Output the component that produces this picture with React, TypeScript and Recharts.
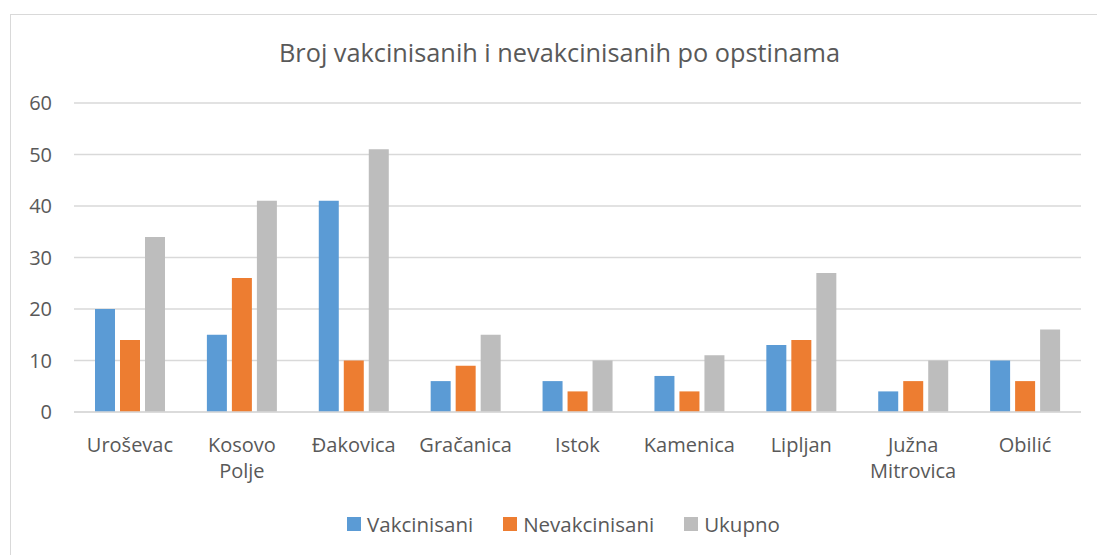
import { BarChart, Bar, XAxis, YAxis, CartesianGrid } from 'recharts';

const municipalities = ['Uroševac', 'Kosovo Polje', 'Đakovica', 'Gračanica', 'Istok', 'Kamenica', 'Lipljan', 'Južna Mitrovica', 'Obilić'];
const vakcinisani = [20, 15, 41, 6, 6, 7, 13, 4, 10];
const nevakcinisani = [14, 26, 10, 9, 4, 4, 14, 6, 6];
const ukupno = [34, 41, 51, 15, 10, 11, 27, 10, 16];
const yTicks = [0, 10, 20, 30, 40, 50, 60];

const seriesInfo = [
  { key: 'vakcinisani', name: 'Vakcinisani', color: '#5B9BD5' },
  { key: 'nevakcinisani', name: 'Nevakcinisani', color: '#ED7D31' },
  { key: 'ukupno', name: 'Ukupno', color: '#BDBDBD' },
];

const data = municipalities.map((name, i) => ({
  name,
  vakcinisani: vakcinisani[i],
  nevakcinisani: nevakcinisani[i],
  ukupno: ukupno[i],
}));

const FONT = '"Open Sans", sans-serif';
const TEXT = '#595959';

// category labels wrap on the space, like Excel does for the longer names
function CategoryTick({ x, y, payload }: any) {
  const lines = String(payload.value).split(' ');
  return (
    <text x={x} y={y} textAnchor="middle" fill={TEXT} fontSize={20} fontFamily={FONT}>
      {lines.map((l, i) => (
        <tspan key={i} x={x} dy={i === 0 ? 16 : 26}>{l}</tspan>
      ))}
    </text>
  );
}

function LegendBox() {
  return (
    <div style={{ display: 'flex', justifyContent: 'center', gap: 30, fontFamily: FONT, fontSize: 20.5, color: TEXT, lineHeight: '28px' }}>
      {seriesInfo.map((s) => (
        <div key={s.key} style={{ display: 'flex', alignItems: 'center' }}>
          <span style={{ width: 14, height: 14, background: s.color, display: 'inline-block', marginRight: 6 }} />
          <span>{s.name}</span>
        </div>
      ))}
    </div>
  );
}

export default function App() {
  return (
    <div style={{ position: 'absolute', left: 0, top: 0, width: 1097, height: 555, overflow: 'hidden', background: '#fff' }}>
      <div style={{ position: 'absolute', left: 10, top: 14, width: 1200, height: 700, border: '1.5px solid #d9d9d9' }} />
      <div style={{ position: 'absolute', left: 11, top: 35, width: 1097, textAlign: 'center', fontFamily: FONT, fontSize: 25.3, color: TEXT, lineHeight: '34px' }}>
        Broj vakcinisanih i nevakcinisanih po opstinama
      </div>
      <div style={{ position: 'absolute', left: 0, top: 0 }}>
        <BarChart width={1097} height={555} data={data} margin={{ top: 103, right: 16, left: 14, bottom: 0 }} barSize={20} barGap={5}>
          <CartesianGrid vertical={false} stroke="#d9d9d9" strokeWidth={1.5} />
          <XAxis
            dataKey="name"
            height={143}
            tickLine={false}
            axisLine={{ stroke: '#d9d9d9', strokeWidth: 1.5 }}
            tick={<CategoryTick />}
            tickMargin={18}
            interval={0}
          />
          <YAxis
            width={60}
            domain={[0, 60]}
            ticks={yTicks}
            axisLine={false}
            tickLine={false}
            tickSize={0}
            tickMargin={22}
            tick={{ fill: TEXT, fontSize: 20, fontFamily: FONT }}
          />
          {seriesInfo.map((s) => (
            <Bar key={s.key} dataKey={s.key} name={s.name} fill={s.color} isAnimationActive={false} />
          ))}
        </BarChart>
      </div>
      <div style={{ position: 'absolute', left: 15, top: 510, width: 1097 }}>
        <LegendBox />
      </div>
    </div>
  );
}
